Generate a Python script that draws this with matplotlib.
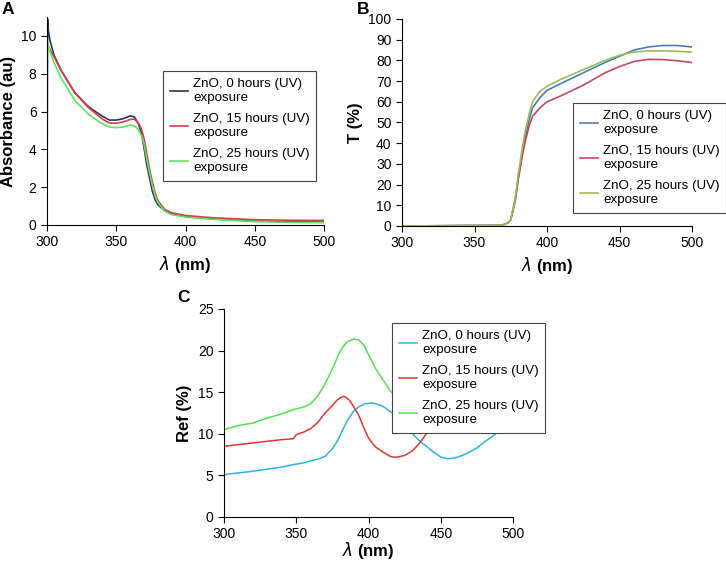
import matplotlib
matplotlib.use("Agg")
import matplotlib.pyplot as plt

plt.rcParams['font.family'] = ['Liberation Sans', 'DejaVu Sans']
plt.rcParams['mathtext.fontset'] = 'dejavusans'

labels = ["ZnO, 0 hours (UV)\nexposure",
          "ZnO, 15 hours (UV)\nexposure",
          "ZnO, 25 hours (UV)\nexposure"]

# panel A: absorbance (0 h curve starts with a vertical rise at 300 nm)
wl_a0 = [300, 300.4, 301, 302, 305, 310, 320, 330, 340, 345, 350, 355, 360, 363, 366, 368, 370,
         372, 374, 376, 378, 380, 385, 390, 400, 420, 450, 475, 500]
abs_0h = [0, 10.9, 10.3, 9.8, 9.0, 8.2, 7.0, 6.25, 5.75, 5.55, 5.55, 5.62, 5.77, 5.72, 5.35, 4.9, 4.1,
          3.2, 2.5, 1.8, 1.35, 1.08, 0.75, 0.6, 0.45, 0.32, 0.2, 0.17, 0.15]
wl_a = [300, 302, 305, 310, 320, 330, 340, 345, 350, 355, 360, 363, 366, 368, 370,
        372, 374, 376, 378, 380, 385, 390, 400, 420, 450, 475, 500]
abs_15h = [9.6, 9.3, 8.9, 8.2, 7.0, 6.2, 5.6, 5.4, 5.38, 5.45, 5.58, 5.6, 5.4, 5.1, 4.6,
           3.8, 3.0, 2.3, 1.7, 1.3, 0.82, 0.65, 0.5, 0.38, 0.28, 0.25, 0.24]
abs_25h = [9.7, 9.2, 8.6, 7.8, 6.6, 5.85, 5.35, 5.18, 5.15, 5.18, 5.28, 5.25, 5.05, 4.75, 4.3,
           3.5, 2.8, 2.1, 1.55, 1.2, 0.72, 0.55, 0.42, 0.3, 0.18, 0.14, 0.12]

# panel B: transmittance
wl_b = [300, 340, 365, 370, 373, 375, 378, 380, 383, 385, 388, 390, 395, 400, 410,
        425, 440, 450, 460, 470, 480, 490, 500]
t_0h = [0, 0.2, 0.3, 0.6, 1.5, 3, 12, 22, 35, 43, 52, 57, 62, 65.5, 69,
        74, 79, 82, 85, 86.5, 87.2, 87.2, 86.5]
t_15h = [0, 0.2, 0.3, 0.6, 1.5, 3, 12, 22, 34, 41, 49, 53, 57, 60, 63,
         68, 74, 77, 79.5, 80.5, 80.4, 79.8, 79]
t_25h = [0, 0.2, 0.3, 0.6, 1.5, 3, 13, 24, 38, 46, 55, 60, 65, 67.5, 71,
         75.5, 80, 82.5, 84, 84.6, 84.6, 84.4, 84]

# panel C: reflectance
wl_c = [300, 310, 320, 330, 340, 348, 350, 355, 360, 365, 370, 375, 378, 380, 383, 385,
        387, 390, 393, 395, 397, 400, 403, 405, 410, 415, 417, 420, 425, 430, 435, 440,
        445, 450, 455, 460, 465, 470, 475, 480, 485, 488, 490, 495, 500]
ref_0h = [5.1, 5.3, 5.5, 5.75, 6.0, 6.3, 6.35, 6.5, 6.75, 6.95, 7.3, 8.2, 9.0, 9.7, 10.8, 11.5,
          12.0, 12.8, 13.2, 13.4, 13.6, 13.65, 13.7, 13.6, 13.3, 12.7, 12.4, 11.9, 11.0, 10.1, 9.2, 8.5,
          7.8, 7.2, 7.0, 7.1, 7.4, 7.8, 8.3, 9.0, 9.6, 10.0, 10.3, 11.0, 11.6]
ref_15h = [8.5, 8.7, 8.9, 9.1, 9.3, 9.4, 9.9, 10.2, 10.6, 11.4, 12.5, 13.4, 14.0, 14.3, 14.5, 14.3,
           14.0, 13.2, 12.3, 11.5, 10.6, 9.5, 8.8, 8.4, 7.8, 7.3, 7.2, 7.2, 7.4, 7.9, 8.8, 10.0,
           11.0, 12.0, 12.8, 13.4, 13.8, 14.0, 14.0, 13.8, 13.5, 13.2, 13.0, 12.6, 12.2]
ref_25h = [10.5, 11.0, 11.3, 11.9, 12.4, 12.9, 13.0, 13.2, 13.6, 14.6, 16.0, 17.8, 19.0, 19.8, 20.6, 21.0,
           21.2, 21.4, 21.3, 21.0, 20.6, 19.5, 18.5, 17.8, 16.5, 15.2, 14.8, 14.0, 13.0, 12.2, 11.6, 11.2,
           11.0, 11.0, 11.2, 11.6, 12.3, 13.2, 14.2, 15.2, 16.0, 16.5, 16.8, 17.2, 17.5]

colors_a = ['#27375f', '#e2394a', '#5ce65c']
colors_b = ['#4a7db4', '#c9485b', '#9cbb58']
colors_c = ['#2bb5e3', '#e23535', '#4fe34f']

fig = plt.figure(figsize=(7.26, 5.62), dpi=100)

ax_a = fig.add_axes([47/726, 1-225/562, 277/726, 208/562])
ax_b = fig.add_axes([402/726, 1-226/562, 290/726, 207/562])
ax_c = fig.add_axes([224/726, 1-517/562, 289/726, 208/562])


def style(ax, pad=3):
    for s in ['top', 'right']:
        ax.spines[s].set_visible(False)
    ax.tick_params(direction='out', length=4, width=0.8, labelsize=10)
    ax.set_xlim(300, 500)
    ax.set_xticks([300, 350, 400, 450, 500])
    ax.set_xlabel(r'$\lambda$ (nm)', fontsize=12, fontweight='bold', labelpad=pad)


def add_legend(ax, x, y):
    leg = ax.legend(loc='upper left', bbox_to_anchor=(x/726, 1-y/562),
                    bbox_transform=fig.transFigure, fontsize=9.6, frameon=True,
                    fancybox=False, framealpha=1, handlelength=1.35, handletextpad=0.4,
                    borderpad=0.5, labelspacing=0.62, borderaxespad=0)
    for t in leg.get_texts():
        t.set_linespacing(1.3)
    leg.get_frame().set_edgecolor('#444444')
    leg.get_frame().set_linewidth(0.8)


# A
ax_a.plot(wl_a0, abs_0h, color=colors_a[0], lw=1.2, label=labels[0])
ax_a.plot(wl_a, abs_15h, color=colors_a[1], lw=1.2, label=labels[1])
ax_a.plot(wl_a, abs_25h, color=colors_a[2], lw=1.2, label=labels[2])
style(ax_a)
ax_a.set_ylim(0, 11)
ax_a.set_yticks(range(0, 11, 2))
ax_a.set_ylabel('Absorbance (au)', fontsize=12, fontweight='bold', labelpad=4)
add_legend(ax_a, 163, 71)

# B
for vals, c, lab in zip([t_0h, t_15h, t_25h], colors_b, labels):
    ax_b.plot(wl_b, vals, color=c, lw=1.2, label=lab)
style(ax_b)
ax_b.set_ylim(0, 100)
ax_b.set_yticks(range(0, 101, 10))
ax_b.set_ylabel('T (%)', fontsize=12, fontweight='bold', labelpad=4)
add_legend(ax_b, 573, 103)

# C
for vals, c, lab in zip([ref_0h, ref_15h, ref_25h], colors_c, labels):
    ax_c.plot(wl_c, vals, color=c, lw=1.1, label=lab)
style(ax_c, pad=-1)
ax_c.set_ylim(0, 25)
ax_c.set_yticks(range(0, 26, 5))
ax_c.set_ylabel('Ref (%)', fontsize=12, fontweight='bold', labelpad=4)
add_legend(ax_c, 392, 323)

fig.text(2/726, 1-2/562, 'A', fontsize=12.5, fontweight='bold', va='top', ha='left')
fig.text(357/726, 1-2/562, 'B', fontsize=12.5, fontweight='bold', va='top', ha='left')
fig.text(177/726, 1-290/562, 'C', fontsize=12.5, fontweight='bold', va='top', ha='left')

fig.savefig('out.png', dpi=100)
